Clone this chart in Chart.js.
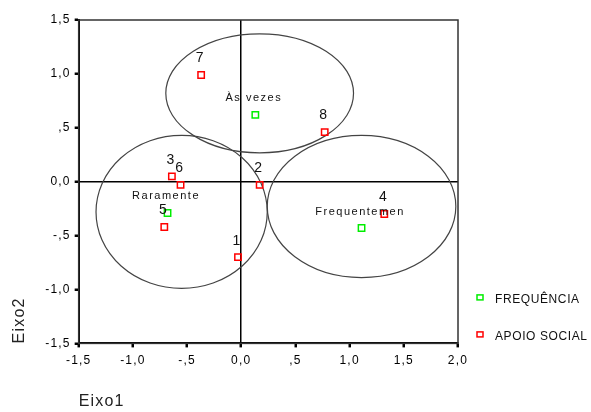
<!DOCTYPE html>
<html>
<head>
    <meta charset="utf-8" />
    <script src="https://cdn.jsdelivr.net/npm/chart.js"></script>
    <style>
        body { margin: 0; background: white; }
        canvas { display: block; }
    </style>
</head>
<body>
    <canvas id="chart" width="591" height="412"></canvas>

    <script>
        // APOIO SOCIAL (pontos numerados)
        const apoioLabels = ['1', '2', '3', '4', '5', '6', '7', '8'];
        const apoioX = [-0.03, 0.17, -0.64, 1.32, -0.71, -0.56, -0.37, 0.77];
        const apoioY = [-0.70, -0.03, 0.05, -0.30, -0.42, -0.03, 0.99, 0.46];

        // FREQUÊNCIA (categorias)
        const freqLabels = ['Raramente', 'Às vezes', 'Frequentemen'];
        const freqX = [-0.68, 0.13, 1.11];
        const freqY = [-0.29, 0.62, -0.43];

        // elipses em volta de cada categoria (unidades dos eixos)
        const ellCx = [-0.55, 0.17, 1.11];
        const ellCy = [-0.28, 0.82, -0.23];
        const ellRx = [0.79, 0.866, 0.87];
        const ellRy = [0.71, 0.552, 0.659];

        const FONT = '"Liberation Sans", Arial, sans-serif';

        function fmt(v) {
            let s = Math.abs(v).toFixed(1).replace('.', ',');
            if (s.startsWith('0,') && v !== 0) s = s.slice(1);
            return (v < 0 ? '-' : '') + s;
        }

        const toPoints = (xs, ys) => xs.map((x, i) => ({ x: x, y: ys[i] }));

        // espaçamento largo das letras, como no original
        const spacing = {
            id: 'spacing',
            beforeLayout(chart) { chart.ctx.letterSpacing = '1.2px'; },
            beforeDraw(chart) { chart.ctx.letterSpacing = '1.2px'; }
        };

        // elipses, moldura, rótulos e legenda
        const extras = {
            id: 'extras',
            beforeDatasetsDraw(chart) {
                const { ctx, chartArea: a, scales: { x, y } } = chart;
                ctx.save();
                ctx.strokeStyle = '#333';
                ctx.lineWidth = 1.5;
                ctx.strokeRect(a.left, a.top, a.right - a.left, a.bottom - a.top);
                ctx.strokeStyle = '#444';
                ctx.lineWidth = 1.2;
                ellCx.forEach((cx, i) => {
                    const px = x.getPixelForValue(cx);
                    const py = y.getPixelForValue(ellCy[i]);
                    const rx = Math.abs(x.getPixelForValue(cx + ellRx[i]) - px);
                    const ry = Math.abs(y.getPixelForValue(ellCy[i] + ellRy[i]) - py);
                    ctx.beginPath();
                    ctx.ellipse(px, py, rx, ry, 0, 0, Math.PI * 2);
                    ctx.stroke();
                });
                ctx.restore();
            },
            afterDatasetsDraw(chart) {
                const { ctx, chartArea: a } = chart;
                ctx.save();
                ctx.fillStyle = '#111';
                ctx.textAlign = 'center';
                ctx.textBaseline = 'middle';
                chart.data.datasets.forEach((ds, di) => {
                    const meta = chart.getDatasetMeta(di);
                    ctx.font = di === 0 ? '11px ' + FONT : '14px ' + FONT;
                    ctx.letterSpacing = di === 0 ? '1.5px' : '0px';
                    meta.data.forEach((pt, i) => {
                        ctx.fillText(ds.pointLabels[i], pt.x - 1.5, pt.y - 16.5);
                    });
                });

                // legenda
                ctx.font = '12px ' + FONT;
                ctx.letterSpacing = '0.6px';
                ctx.textAlign = 'left';
                chart.data.datasets.forEach((ds, di) => {
                    const lx = a.right + 22;
                    const ly = a.bottom - 46 + di * 37;
                    ctx.strokeStyle = ds.borderColor;
                    ctx.lineWidth = 1.5;
                    ctx.strokeRect(lx - 3, ly - 2.5, 6, 5);
                    ctx.fillStyle = '#111';
                    ctx.fillText(ds.label, lx + 15, ly + 2);
                });
                ctx.restore();
            }
        };

        const zeroLine = c => c.tick && c.tick.value === 0 ? '#000' : 'rgba(0,0,0,0)';

        new Chart(document.getElementById('chart'), {
            type: 'scatter',
            data: {
                datasets: [
                    {
                        label: 'FREQUÊNCIA',
                        data: toPoints(freqX, freqY),
                        pointLabels: freqLabels,
                        borderColor: '#00ee00',
                        backgroundColor: 'rgba(255,255,255,0)',
                        pointStyle: 'rect',
                        pointRadius: 4.5,
                        pointBorderWidth: 1.5
                    },
                    {
                        label: 'APOIO SOCIAL',
                        data: toPoints(apoioX, apoioY),
                        pointLabels: apoioLabels,
                        borderColor: '#ff0000',
                        backgroundColor: 'rgba(255,255,255,0)',
                        pointStyle: 'rect',
                        pointRadius: 4.5,
                        pointBorderWidth: 1.5
                    }
                ]
            },
            options: {
                responsive: false,
                animation: false,
                layout: { padding: { left: 0, right: 133, top: 20, bottom: 0 } },
                plugins: {
                    legend: { display: false },
                    tooltip: { enabled: false }
                },
                scales: {
                    x: {
                        min: -1.5,
                        max: 2.0,
                        ticks: {
                            stepSize: 0.5,
                            color: '#000',
                            padding: 6,
                            font: { family: FONT, size: 12 },
                            callback: v => fmt(v)
                        },
                        grid: {
                            color: zeroLine,
                            lineWidth: 1.5,
                            tickColor: '#000',
                            tickLength: 4,
                            tickWidth: 2.5
                        },
                        border: { color: '#000', width: 2 },
                        title: {
                            display: true,
                            text: 'Eixo1',
                            align: 'start',
                            color: '#222',
                            font: { family: FONT, size: 16 },
                            padding: { top: 18, bottom: 1 }
                        }
                    },
                    y: {
                        min: -1.5,
                        max: 1.5,
                        ticks: {
                            stepSize: 0.5,
                            color: '#000',
                            padding: 4,
                            font: { family: FONT, size: 12 },
                            callback: v => fmt(v)
                        },
                        grid: {
                            color: zeroLine,
                            lineWidth: 1.5,
                            tickColor: '#000',
                            tickLength: 4,
                            tickWidth: 2.5
                        },
                        border: { color: '#000', width: 2 },
                        title: {
                            display: true,
                            text: 'Eixo2',
                            align: 'start',
                            color: '#222',
                            font: { family: FONT, size: 16 },
                            padding: { top: 10, bottom: 12 }
                        }
                    }
                }
            },
            plugins: [spacing, extras]
        });
    </script>
</body>
</html>
